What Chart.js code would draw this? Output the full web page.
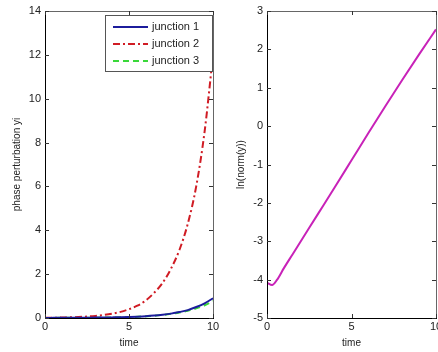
<!DOCTYPE html>
<html lang="en">
<head>
<meta charset="UTF-8">
<title>phase perturbation</title>
<script src="https://cdn.jsdelivr.net/npm/chart.js"></script>
<style>
  html, body { margin: 0; padding: 0; background: #fff; }
  .wrap { position: relative; width: 438px; height: 352px; overflow: hidden; }
  .panel { position: absolute; top: 0; width: 219px; height: 352px; }
  #leftPanel { left: 0; }
  #rightPanel { left: 219px; }
</style>
</head>
<body>
<div class="wrap">
  <div class="panel" id="leftPanel"><canvas id="phaseChart" width="219" height="352"></canvas></div>
  <div class="panel" id="rightPanel"><canvas id="normChart" width="219" height="352"></canvas></div>
</div>

<script>
// left panel: phase perturbation of each junction
const timeSteps = [0, 0.5, 1, 1.5, 2, 2.5, 3, 3.5, 4, 4.5, 5, 5.5, 6, 6.5, 7, 7.5, 8, 8.5, 9, 9.5, 10];
const junction1 = [0.005, 0.006, 0.008, 0.01, 0.012, 0.015, 0.018, 0.022, 0.028, 0.035, 0.045, 0.06, 0.08, 0.11, 0.15, 0.2, 0.27, 0.36, 0.5, 0.67, 0.9];
const junction2 = [0.01, 0.015, 0.02, 0.03, 0.045, 0.065, 0.095, 0.14, 0.2, 0.28, 0.4, 0.56, 0.8, 1.15, 1.6, 2.25, 3.1, 4.3, 6.0, 8.5, 12];
const junction3 = [0.004, 0.005, 0.007, 0.009, 0.011, 0.014, 0.017, 0.021, 0.026, 0.033, 0.042, 0.055, 0.075, 0.1, 0.14, 0.19, 0.25, 0.33, 0.44, 0.58, 0.78];
const legendLabels = ['junction 1', 'junction 2', 'junction 3'];

// right panel: log of the norm
const normTime = [0, 0.3, 0.6, 1, 1.5, 2, 3, 4, 5, 6, 7, 8, 9, 10];
const lnNorm = [-4.08, -4.14, -4.0, -3.7, -3.35, -3.0, -2.3, -1.6, -0.89, -0.18, 0.52, 1.2, 1.87, 2.52];

const tickColor = '#222';
const tickFont = { family: 'Liberation Sans, Arial, sans-serif', size: 11 };
const titleFont = { family: 'Liberation Sans, Arial, sans-serif', size: 10 };

function toPoints(xs, ys) {
  return xs.map((x, i) => ({ x: x, y: ys[i] }));
}

// MATLAB style box with inward ticks on all four sides
const boxTicks = {
  id: 'boxTicks',
  afterDatasetsDraw(chart) {
    const { ctx, chartArea: a, scales } = chart;
    const x = scales.x, y = scales.y;
    const len = 4;
    ctx.save();
    ctx.lineWidth = 1;
    ctx.strokeStyle = '#666';
    ctx.beginPath();
    ctx.moveTo(a.left, a.top + 0.5); ctx.lineTo(a.right + 0.5, a.top + 0.5);
    ctx.lineTo(a.right + 0.5, a.bottom);
    ctx.stroke();
    ctx.strokeStyle = '#000';
    ctx.beginPath();
    ctx.moveTo(a.left + 0.5, a.top); ctx.lineTo(a.left + 0.5, a.bottom + 0.5);
    ctx.lineTo(a.right + 1, a.bottom + 0.5);
    ctx.stroke();
    ctx.strokeStyle = '#333';
    ctx.beginPath();
    x.ticks.forEach(t => {
      const px = Math.round(x.getPixelForValue(t.value)) + 0.5;
      ctx.moveTo(px, a.bottom); ctx.lineTo(px, a.bottom - len);
      ctx.moveTo(px, a.top); ctx.lineTo(px, a.top + len);
    });
    y.ticks.forEach(t => {
      const py = Math.round(y.getPixelForValue(t.value)) + 0.5;
      ctx.moveTo(a.left, py); ctx.lineTo(a.left + len, py);
      ctx.moveTo(a.right, py); ctx.lineTo(a.right - len, py);
    });
    ctx.stroke();
    ctx.restore();
  }
};

const boxLegend = {
  id: 'boxLegend',
  afterDraw(chart) {
    const { ctx, chartArea: a } = chart;
    const left = a.right - 108, top = a.top + 4, w = 107, h = 56;
    ctx.save();
    ctx.fillStyle = '#fff';
    ctx.fillRect(left, top, w, h);
    ctx.strokeStyle = '#555';
    ctx.lineWidth = 1;
    ctx.strokeRect(left + 0.5, top + 0.5, w, h);
    chart.data.datasets.forEach((ds, i) => {
      const cy = top + 12 + i * 17;
      ctx.strokeStyle = ds.borderColor;
      ctx.lineWidth = ds.borderWidth;
      ctx.setLineDash(ds.borderDash || []);
      ctx.beginPath();
      ctx.moveTo(left + 8, cy); ctx.lineTo(left + 43, cy);
      ctx.stroke();
      ctx.setLineDash([]);
      ctx.fillStyle = tickColor;
      ctx.font = '11px Liberation Sans, Arial, sans-serif';
      ctx.textBaseline = 'middle';
      ctx.fillText(ds.label, left + 47, cy);
    });
    ctx.restore();
  }
};

function axesOptions(yMin, yMax, yStep, yTitle, yWidth, yTitlePad, padRight) {
  return {
    responsive: false,
    animation: false,
    layout: { padding: { left: 0, top: 11, right: padRight, bottom: 0 } },
    plugins: { legend: { display: false }, tooltip: { enabled: false } },
    elements: { point: { radius: 0 } },
    scales: {
      x: {
        type: 'linear', min: 0, max: 10,
        ticks: { stepSize: 5, color: tickColor, font: tickFont, padding: 2, maxRotation: 0, autoSkip: false },
        grid: { display: false, drawTicks: false },
        border: { display: false },
        title: { display: true, text: 'time', color: tickColor, font: titleFont, padding: { top: 0, bottom: 3 } },
        afterFit(s) { s.height = 34; s.paddingLeft = 0; s.paddingRight = 0; }
      },
      y: {
        min: yMin, max: yMax,
        ticks: { stepSize: yStep, color: tickColor, font: tickFont, padding: 4 },
        grid: { display: false, drawTicks: false },
        border: { display: false },
        title: { display: true, text: yTitle, color: tickColor, font: titleFont, padding: { top: yTitlePad, bottom: 0 } },
        afterFit(s) { s.width = yWidth; s.paddingTop = 0; s.paddingBottom = 0; }
      }
    }
  };
}

new Chart(document.getElementById('phaseChart'), {
  type: 'line',
  data: {
    datasets: [
      { label: legendLabels[0], data: toPoints(timeSteps, junction1), borderColor: '#1c1c9c', borderWidth: 2, cubicInterpolationMode: 'monotone' },
      { label: legendLabels[1], data: toPoints(timeSteps, junction2), borderColor: '#d01c24', borderWidth: 2, borderDash: [7, 3, 2, 3], cubicInterpolationMode: 'monotone' },
      { label: legendLabels[2], data: toPoints(timeSteps, junction3), borderColor: '#3ad83a', borderWidth: 2, borderDash: [6, 4], cubicInterpolationMode: 'monotone' }
    ]
  },
  options: axesOptions(0, 14, 2, 'phase perturbation yi', 45, 11, 6),
  plugins: [boxTicks, boxLegend]
});

new Chart(document.getElementById('normChart'), {
  type: 'line',
  data: {
    datasets: [
      { label: 'ln(norm(y))', data: toPoints(normTime, lnNorm), borderColor: '#c822b8', borderWidth: 2, cubicInterpolationMode: 'monotone' }
    ]
  },
  options: axesOptions(-5, 3, 1, 'ln(norm(y))', 48, 16, 2),
  plugins: [boxTicks]
});
</script>
</body>
</html>
